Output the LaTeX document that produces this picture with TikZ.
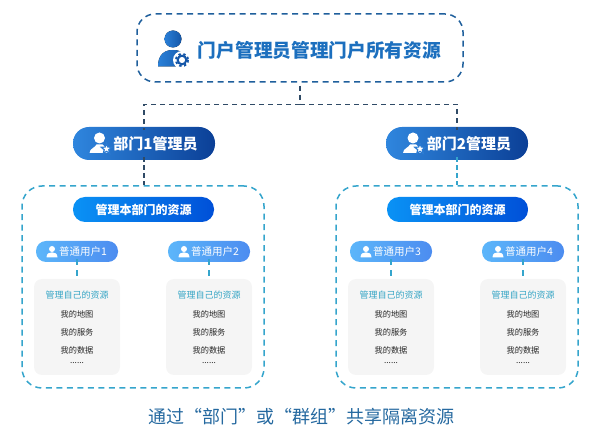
\documentclass[tikz,border=0pt]{standalone}
\usepackage{fontspec}
\setmainfont{Noto Sans CJK SC}
\usetikzlibrary{shapes.geometric}
\definecolor{topblue}{HTML}{1F5F9C}
\definecolor{linedark}{HTML}{2F4A66}
\definecolor{boxblue}{HTML}{35A5CC}
\definecolor{titleblue}{HTML}{1C6FBE}
\definecolor{cardgray}{HTML}{F5F5F5}
\definecolor{cardteal}{HTML}{35A5C5}
\definecolor{bottomblue}{HTML}{24689F}
\definecolor{deptleft}{HTML}{2F86DE}
\definecolor{deptright}{HTML}{0B3F96}
\definecolor{subleft}{HTML}{0A92F5}
\definecolor{subright}{HTML}{0050D8}
\definecolor{userleft}{HTML}{5CB6FA}
\definecolor{userright}{HTML}{4C8CF0}
\definecolor{iconleft}{HTML}{2A80D8}
\definecolor{iconright}{HTML}{1456A8}
\tikzset{
  topbox/.style={draw=topblue, line width=1.5pt, dash pattern=on 6pt off 4.5pt, rounded corners=18pt, minimum width=326pt, minimum height=68pt, inner sep=0pt},
  deptbox/.style={draw=boxblue, line width=1.5pt, dash pattern=on 6pt off 4.5pt, rounded corners=20pt, minimum width=242pt, minimum height=202pt, inner sep=0pt},
  deptpill/.style={left color=deptleft, right color=deptright, rounded corners=16pt, minimum width=142pt, minimum height=33pt, inner sep=0pt},
  subpill/.style={left color=subleft, right color=subright, rounded corners=12pt, minimum width=141pt, minimum height=25pt, inner sep=0pt, text=white, font=\fontsize{12}{13}\selectfont\bfseries},
  userpill/.style={left color=userleft, right color=userright, rounded corners=10pt, minimum width=82pt, minimum height=21pt, inner sep=0pt},
  card/.style={fill=cardgray, rounded corners=8pt, minimum width=86pt, minimum height=96pt, inner sep=0pt},
  toptext/.style={text=titleblue, inner sep=0pt, font=\fontsize{18.7}{20}\selectfont\bfseries},
  depttext/.style={text=white, inner sep=0pt, font=\fontsize{15}{16}\selectfont\bfseries},
  usertext/.style={text=white, inner sep=0pt, font=\fontsize{10.5}{12}\selectfont},
  cardtitle/.style={text=cardteal, inner sep=0pt, font=\fontsize{9}{10}\selectfont},
  carditem/.style={text=black!85, inner sep=0pt, font=\fontsize{8.2}{9}\selectfont},
  topline/.style={draw=linedark, line width=1.2pt, dash pattern=on 5pt off 4pt},
  boxline/.style={draw=boxblue, line width=1.4pt, dash pattern=on 5pt off 4pt},
}
\newcommand{\depticon}[2]{
  \fill[white] (#1+1,#2-5.5) circle (5.5);
  \fill[white] (#1-9,#2+9.5) .. controls (#1-9,#2+5) and (#1-3,#2+4) .. (#1-2,#2+1) -- (#1+4,#2+1) .. controls (#1+5,#2+3) and (#1+8,#2+4) .. (#1+10,#2+6) -- (#1+10,#2+9.5) -- cycle;
  \node[star, star points=5, star point ratio=2.3, fill=white, draw=deptleft!85!deptright, line width=1.2pt, minimum size=11pt, inner sep=0pt] at (#1+8,#2+5.5) {};
}
\newcommand{\usericon}[2]{
  \fill[white] (#1,#2-2.5) circle (3);
  \fill[white] (#1-5.5,#2+6) .. controls (#1-5.5,#2+2) and (#1-3,#2+0.8) .. (#1,#2+0.8) .. controls (#1+3,#2+0.8) and (#1+5.5,#2+2) .. (#1+5.5,#2+6) -- cycle;
}
\begin{document}
\begin{tikzpicture}[x=1pt, y=-1pt]
  \useasboundingbox (0,0) rectangle (600,443);

  \node[topbox] (top) at (300,48) {};
  \node[toptext] (toplabel) at (319.5,50) {门户管理员管理门户所有资源};

  % portal admin icon
  \fill[left color=iconleft, right color=iconright] (173,39) circle (8.5);
  \fill[left color=iconleft, right color=iconright] (158,66.5) .. controls (158,55) and (164,50) .. (173,50) .. controls (182,50) and (188,55) .. (188,66.5) -- cycle;
  \fill[white] (182,60) circle (9);
  \draw[iconright, line width=2pt] (182,60) circle (4.3);
  \draw[iconright, line width=2pt, dash pattern=on 2.4pt off 2.5pt] (182,60) circle (6);

  \node[deptpill] (dept1) at (144,143.5) {};
  \node[deptpill] (dept2) at (457,143.5) {};
  \node[depttext] (dept1label) at (155.5,143.5) {部门1管理员};
  \node[depttext] (dept2label) at (469,143.5) {部门2管理员};
  \depticon{98.5}{143.5}
  \depticon{412}{143.5}

  \coordinate (topjoin) at (300,104.5);
  \draw[topline] (top.south) ++(0,3) -- (topjoin);
  \draw[topline] (topjoin) -| ([yshift=-3pt]dept1.north);
  \draw[topline] (topjoin) -| ([yshift=-3pt]dept2.north);

  \node[deptbox] (box1) at (143,287) {};
  \node[deptbox] (box2) at (457,287) {};
  \draw[topline, dash pattern=on 5pt off 3pt] ([yshift=3pt]dept1.south) -- (box1.north -| dept1.south);
  \draw[boxline, dash pattern=on 5pt off 3pt] ([yshift=3pt]dept2.south) -- (box2.north);

  \node[subpill] (res1) at (143.5,209.5) {管理本部门的资源};
  \node[subpill] (res2) at (457.5,209.5) {管理本部门的资源};

  \node[userpill] (user1) at (77,251.5) {};
  \node[userpill] (user2) at (209,251.5) {};
  \node[userpill] (user3) at (391,251.5) {};
  \node[userpill] (user4) at (523,251.5) {};
  \node[usertext] (user1label) at (83,251.5) {普通用户1};
  \node[usertext] (user2label) at (215,251.5) {普通用户2};
  \node[usertext] (user3label) at (397,251.5) {普通用户3};
  \node[usertext] (user4label) at (529,251.5) {普通用户4};
  \usericon{52}{251.5}
  \usericon{184}{251.5}
  \usericon{366}{251.5}
  \usericon{498}{251.5}

  \node[card] (card1) at (77,327) {};
  \node[card] (card2) at (209,327) {};
  \node[card] (card3) at (391,327) {};
  \node[card] (card4) at (523,327) {};

  \draw[boxline, line width=1.2pt, dash pattern=on 6pt off 5pt] ([yshift=3pt]user1.south) -- (card1.north);
  \draw[boxline, line width=1.2pt, dash pattern=on 6pt off 5pt] ([yshift=3pt]user2.south) -- (card2.north);
  \draw[boxline, line width=1.2pt, dash pattern=on 6pt off 5pt] ([yshift=3pt]user3.south) -- (card3.north);
  \draw[boxline, line width=1.2pt, dash pattern=on 6pt off 5pt] ([yshift=3pt]user4.south) -- (card4.north);

  \node[cardtitle] (own1) at (77,295) {管理自己的资源};
  \node[carditem] (map1) at (77,314) {我的地图};
  \node[carditem] (svc1) at (77,332) {我的服务};
  \node[carditem] (dat1) at (77,350) {我的数据};
  \node[carditem] (dot1) at (77,363) {......};

  \node[cardtitle] (own2) at (209,295) {管理自己的资源};
  \node[carditem] (map2) at (209,314) {我的地图};
  \node[carditem] (svc2) at (209,332) {我的服务};
  \node[carditem] (dat2) at (209,350) {我的数据};
  \node[carditem] (dot2) at (209,363) {......};

  \node[cardtitle] (own3) at (391,295) {管理自己的资源};
  \node[carditem] (map3) at (391,314) {我的地图};
  \node[carditem] (svc3) at (391,332) {我的服务};
  \node[carditem] (dat3) at (391,350) {我的数据};
  \node[carditem] (dot3) at (391,363) {......};

  \node[cardtitle] (own4) at (523,295) {管理自己的资源};
  \node[carditem] (map4) at (523,314) {我的地图};
  \node[carditem] (svc4) at (523,332) {我的服务};
  \node[carditem] (dat4) at (523,350) {我的数据};
  \node[carditem] (dot4) at (523,363) {......};

  \node[text=bottomblue, inner sep=0pt, font=\fontsize{18}{20}\selectfont] (caption) at (301.5,417) {通过“部门”或“群组”共享隔离资源};
\end{tikzpicture}
\end{document}
